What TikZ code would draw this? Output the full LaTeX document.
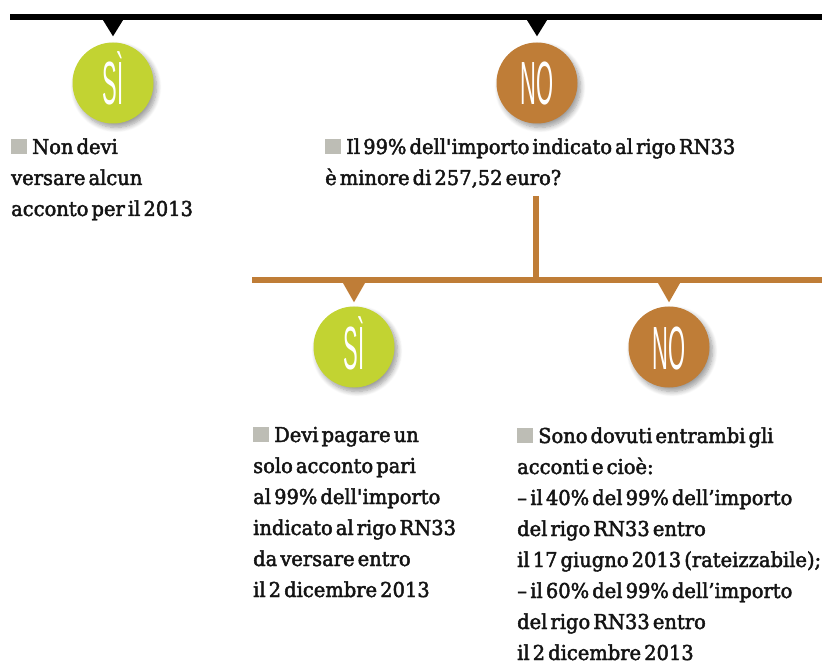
\documentclass[tikz,border=0pt]{standalone}
\usepackage{fontspec}
\usetikzlibrary{shadows.blur,calc}
\newfontfamily\bodyfont[FakeStretch=0.95,WordSpace=0.5,FakeBold=2.2]{DejaVu Serif}
\newfontfamily\circfont{Liberation Sans}
\definecolor{yesgreen}{HTML}{C2D332}
\definecolor{nobrown}{HTML}{BF7D37}
\definecolor{sqgray}{HTML}{BDBDB5}
\definecolor{ink}{HTML}{141414}
\newcommand{\sqmark}{{\color{sqgray}\rule{16pt}{15pt}}\hspace{5pt}}
\newenvironment{lines}{\begin{tabular}[t]{@{}l@{}}}{\end{tabular}}
\begin{document}
\begin{tikzpicture}[x=1pt,y=-1pt,
  badge/.style={circle, minimum size=81pt, inner sep=0pt, text=white,
    font=\circfont\fontsize{61}{61}\selectfont, text height=44pt, text depth=0pt,
    blur shadow={shadow xshift=3pt, shadow yshift=-4pt, shadow blur steps=8, shadow blur radius=5pt, shadow opacity=40}},
  yes/.style={badge, fill=yesgreen},
  no/.style={badge, fill=nobrown},
  txt/.style={anchor=base west, inner sep=0pt, text=ink, font=\bodyfont\fontsize{20.5}{31}\selectfont},
]
\useasboundingbox (0,0) rectangle (822,668);

% top black bar
\coordinate (topL) at (10,17);
\coordinate (topR) at (822,17);
\draw[line width=6pt] (topL) -- (topR);

\node[yes] (s1) at (113,83) {\scalebox{0.36}[1]{SÌ}};
\node[no]  (n1) at (537,83) {\scalebox{0.36}[1]{NO}};
\fill ($(s1.north)+(0,-6)$) -- ++(-10.5,-17) -- ++(21,0) -- cycle;
\fill ($(n1.north)+(0,-6)$) -- ++(-10.5,-17) -- ++(21,0) -- cycle;

\node[txt] (t1) at (11,154) {\begin{lines}\sqmark Non devi\\versare alcun\\acconto per il 2013\end{lines}};
\node[txt] (t2) at (325,154) {\begin{lines}\sqmark Il 99\% dell\textquotesingle importo indicato al rigo RN33\\è minore di 257,52 euro?\end{lines}};

% brown branch
\coordinate (q) at (536,196);
\coordinate (hL) at (252,280);
\coordinate (hR) at (822,280);
\draw[nobrown, line width=6pt] (hL) -- (hR);
\draw[nobrown, line width=6pt] (q) -- (q |- hL);

\node[yes] (s2) at (354,347) {\scalebox{0.36}[1]{SÌ}};
\node[no]  (n2) at (669,347) {\scalebox{0.36}[1]{NO}};
\fill[nobrown] ($(s2.north)+(0,-4)$) -- ++(-12,-21) -- ++(24,0) -- cycle;
\fill[nobrown] ($(n2.north)+(0,-4)$) -- ++(-12,-21) -- ++(24,0) -- cycle;

\node[txt] (t3) at (253,442) {\begin{lines}\sqmark Devi pagare un\\solo acconto pari\\al 99\% dell\textquotesingle importo\\indicato al rigo RN33\\da versare entro\\il 2 dicembre 2013\end{lines}};
\node[txt] (t4) at (517,443) {\begin{lines}\sqmark Sono dovuti entrambi gli\\acconti e cioè:\\–\,il 40\% del 99\% dell’importo\\del rigo RN33 entro\\il 17 giugno 2013 (rateizzabile);\\–\,il 60\% del 99\% dell’importo\\del rigo RN33 entro\\il 2 dicembre 2013\end{lines}};
\end{tikzpicture}
\end{document}
